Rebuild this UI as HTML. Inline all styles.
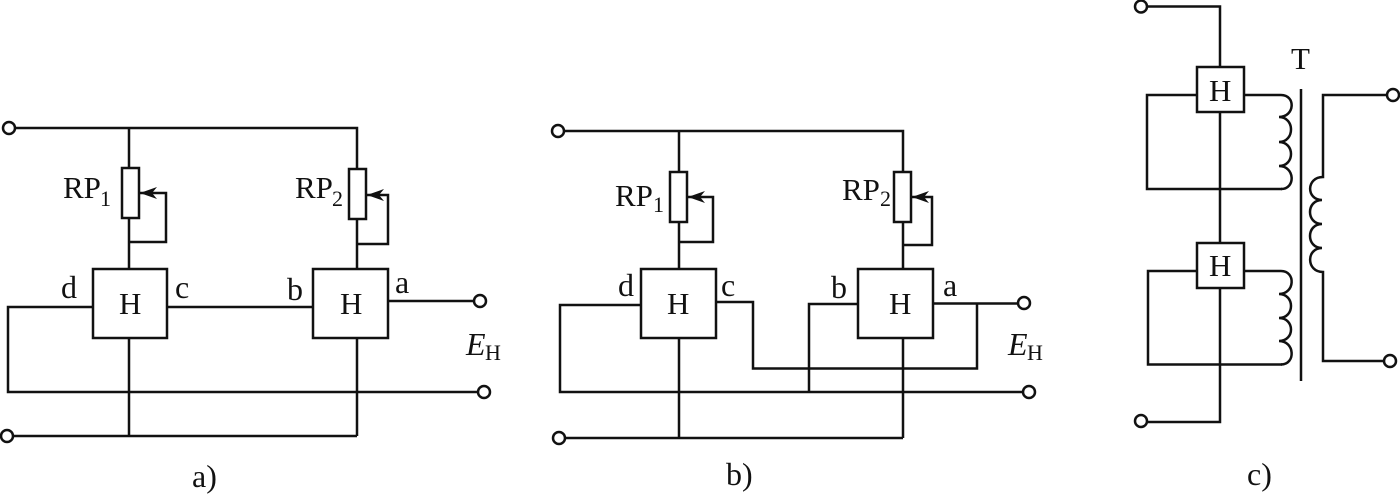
<!DOCTYPE html>
<html>
<head>
<meta charset="utf-8">
<style>
html,body{margin:0;padding:0;background:#fff;width:1400px;height:494px;overflow:hidden}
svg{display:block}
text{font-family:"Liberation Serif",serif;fill:#111;font-size:31px}
.s{font-size:22px}
.l{font-size:32px}
.i{font-style:italic;font-size:32px}
path,rect,circle,line{stroke:#111;stroke-width:2.5;fill:none}
rect,circle{fill:#fff}
.a{fill:#111;stroke:none}
</style>
</head>
<body>
<svg width="1400" height="494" viewBox="0 0 1400 494" xmlns="http://www.w3.org/2000/svg">
<!-- a -->
<path d="M15 128H357V269M129 128V269M129 242H166V193H140M357 244H388V195H367"/>
<path d="M93 307H8V392H478M129 338V436M357 338V436M13 436H357M167 307H313M388 301H474"/>
<rect x="122" y="168" width="17" height="50"/>
<rect x="349" y="169" width="17" height="50"/>
<rect x="93" y="269" width="74" height="69"/>
<rect x="313" y="269" width="75" height="69"/>
<path class="a" d="M140 193L157 187L152 193L157 199Z"/>
<path class="a" d="M367 195L384 189L379 195L384 201Z"/>
<circle cx="9" cy="128" r="6"/>
<circle cx="7" cy="436" r="6"/>
<circle cx="480" cy="301" r="6"/>
<circle cx="484" cy="392" r="6"/>
<text x="63" y="198">RP</text><text class="s" x="100" y="206">1</text>
<text x="295" y="198">RP</text><text class="s" x="332" y="206">2</text>
<text x="119" y="314">H</text><text x="340" y="314">H</text>
<text class="l" x="61" y="298">d</text><text class="l" x="175" y="298">c</text>
<text class="l" x="287" y="300">b</text><text class="l" x="395" y="293">a</text>
<text class="i" x="466" y="355">E</text><text class="s" x="485" y="360">H</text>
<text class="l" x="192" y="487">a)</text>
<!-- b -->
<path d="M564 131H903V269M679 131V269M679 242H713V197H688M903 245H932V197H912"/>
<path d="M641 305H560V392H1023M679 338V438M903 338V438M565 438H903"/>
<path d="M716 302H753V368.500H977V303.500M858 304H809V392M933 303.500H1018"/>
<rect x="670" y="172" width="17" height="50"/>
<rect x="894" y="172" width="17" height="50"/>
<rect x="641" y="269" width="75" height="69"/>
<rect x="858" y="269" width="75" height="69"/>
<path class="a" d="M688 197L705 191L700 197L705 203Z"/>
<path class="a" d="M912 197L929 191L924 197L929 203Z"/>
<circle cx="558" cy="131" r="6"/>
<circle cx="559" cy="438" r="6"/>
<circle cx="1024" cy="303" r="6"/>
<circle cx="1029" cy="392" r="6"/>
<text x="615" y="206">RP</text><text class="s" x="653" y="212">1</text>
<text x="842" y="200">RP</text><text class="s" x="880" y="206">2</text>
<text x="667" y="314">H</text><text x="889" y="314">H</text>
<text class="l" x="618" y="296">d</text><text class="l" x="721" y="296">c</text>
<text class="l" x="831" y="298">b</text><text class="l" x="943" y="296">a</text>
<text class="i" x="1008" y="355">E</text><text class="s" x="1027" y="360">H</text>
<text class="l" x="726" y="485">b)</text>
<!-- c -->
<path d="M1147 6.500H1220V67M1220 112V243M1220 288V422H1147"/>
<path d="M1197 95H1147V189H1282M1244 95H1281"/>
<path d="M1197 271H1148V364.500H1282M1244 271H1281"/>
<path d="M1281 95C1296 95 1295 117 1279 117C1295 117 1295 142 1279 142C1295 142 1295 166 1279 166C1295 166 1296 189 1281 189"/>
<path d="M1281 271C1296 271 1295 294 1279 294C1295 294 1295 318 1279 318C1295 318 1295 341 1279 341C1295 341 1296 364.500 1281 364.500"/>
<path d="M1301 89V381"/>
<path d="M1387 95H1323V177C1306 177 1306 200 1322 200C1306 200 1306 224 1322 224C1306 224 1306 248 1322 248C1306 248 1306 272 1323 272V361H1384"/>
<rect x="1197" y="67" width="47" height="45"/>
<rect x="1197" y="243" width="47" height="45"/>
<circle cx="1141" cy="6.500" r="6"/>
<circle cx="1141" cy="421" r="6"/>
<circle cx="1393" cy="95" r="6"/>
<circle cx="1390" cy="361" r="6"/>
<text x="1209" y="101">H</text><text x="1209" y="276">H</text>
<text x="1291" y="69">T</text>
<text class="l" x="1247" y="485">c)</text>
</svg>
</body>
</html>
